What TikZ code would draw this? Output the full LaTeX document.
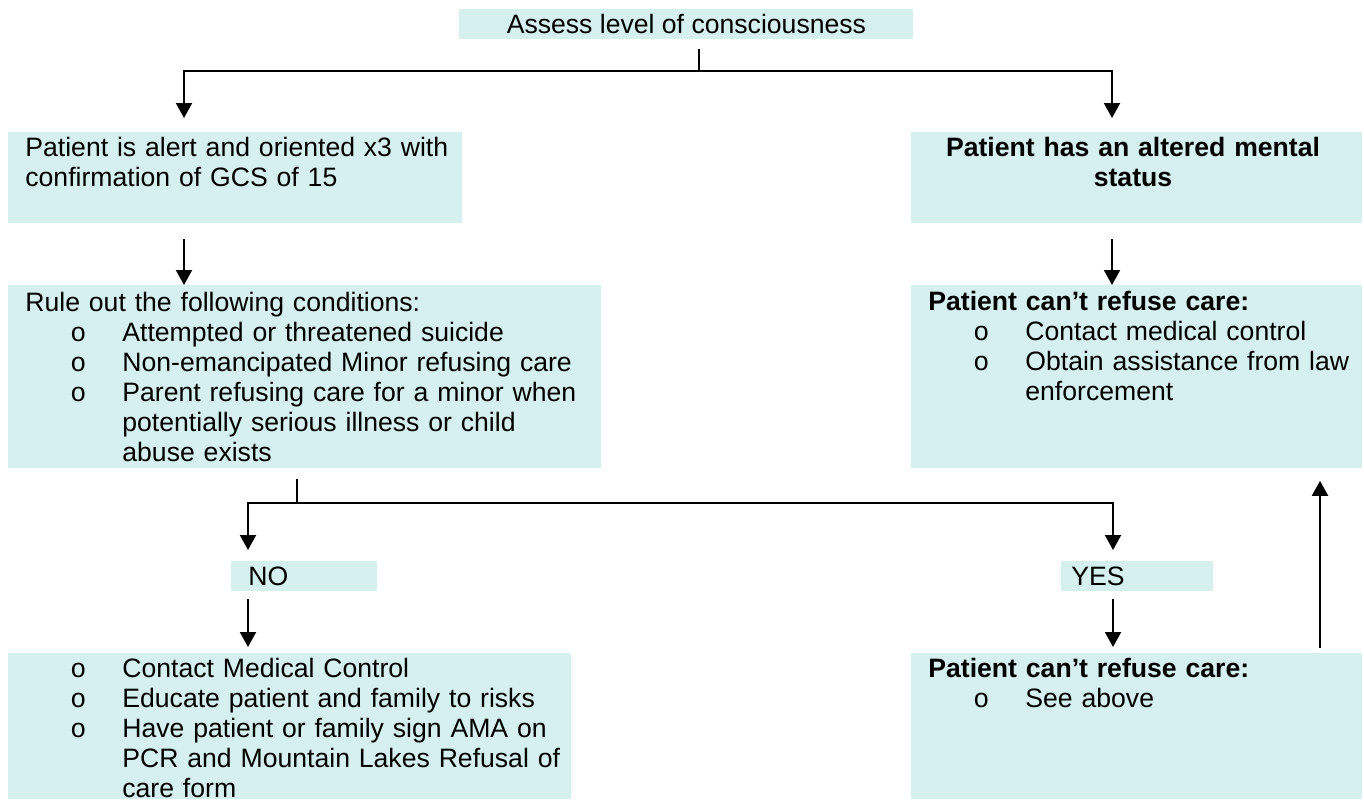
\documentclass[tikz,border=0pt]{standalone}
\usepackage{fontspec}
\setmainfont{Liberation Sans}
\newfontfamily\bulfont{Liberation Mono}
\usepackage{tikz}
\usepackage{xcolor}
\usetikzlibrary{calc,arrows.meta}
\definecolor{boxfill}{RGB}{214,239,239}
\newcommand{\bulbody}[1]{\hangindent=48.5pt\hangafter=1\noindent\hspace*{22.5pt}\makebox[26pt][l]{\bulfont o}#1\par}
\newcommand{\bulitem}[1]{\par\bulbody{#1}}

\begin{document}
\begin{tikzpicture}[x=0.5pt,y=-0.5pt]
    \tikzstyle{every node}=[inner sep=0pt, font=\fontsize{13.3pt}{15pt}\selectfont]
    \tikzstyle{box}=[fill=boxfill, anchor=north west]
    \tikzstyle{txt}=[anchor=base west, text width=330pt, align=left]
    \tikzstyle{conn}=[line width=1pt]
    \tikzstyle{arr}=[line width=1pt, -{Triangle[width=8pt,length=7.5pt]}]
    \useasboundingbox (0,0) rectangle (1364,799);
    \clip (0,0) rectangle (1364,799);

    \node[box, minimum width=227pt, minimum height=15pt] (1) at (459,9) {Assess level of consciousness};
    \node[box, minimum width=227pt, minimum height=45.5pt] (2) at (8,132) {};
    \node[box, minimum width=225.5pt, minimum height=45.5pt] (3) at (911,132) {};
    \node[box, minimum width=296.5pt, minimum height=91.5pt] (4) at (8,285) {};
    \node[box, minimum width=225.5pt, minimum height=91.5pt] (5) at (911,285) {};
    \node[box, minimum width=73pt, minimum height=15pt] (6) at (231,561) {};
    \node[box, minimum width=76pt, minimum height=15pt] (7) at (1061,561) {};
    \node[box, minimum width=281.5pt, minimum height=73pt] (8) at (8,653) {};
    \node[box, minimum width=225.5pt, minimum height=73pt] (9) at (911,653) {};

    \node[txt] (2t) at (25,156) {Patient is alert and oriented x3 with\\confirmation of GCS of 15};
    \node[anchor=base, text width=225pt, align=center] (3t) at (1133,156) {\textbf{Patient has an altered mental}\\\textbf{status}};
    \node[txt] (4t) at (25,311) {Rule out the following conditions:
        \bulitem{Attempted or threatened suicide}
        \bulitem{Non-emancipated Minor refusing care}
        \bulitem{Parent refusing care for a minor when\newline potentially serious illness or child\newline abuse exists}};
    \node[txt] (5t) at (928,310) {\textbf{Patient can’t refuse care:}
        \bulitem{Contact medical control}
        \bulitem{Obtain assistance from law\newline enforcement}};
    \node[anchor=base west] (6t) at (248,585) {NO};
    \node[anchor=base west] (7t) at (1071,585) {YES};
    \node[txt] (8t) at (25,677) {\bulbody{Contact Medical Control}
        \bulitem{Educate patient and family to risks}
        \bulitem{Have patient or family sign AMA on\newline PCR and Mountain Lakes Refusal of\newline care form}};
    \node[txt] (9t) at (928,677) {\textbf{Patient can’t refuse care:}
        \bulitem{See above}};

    \coordinate (j1) at (699,71);
    \coordinate (a1) at (184,71);
    \coordinate (a2) at (1112,71);
    \draw[conn, shorten <=4.5pt] (1.south -| j1) -- (j1);
    \draw[arr, shorten >=7pt] (j1) -- (a1) -- (a1 |- 2.north);
    \draw[arr, shorten >=7pt] (j1) -- (a2) -- (a2 |- 3.north);
    \draw[arr, shorten <=7.5pt] (2.south -| a1) -- (4.north -| a1);
    \draw[arr, shorten <=7.5pt] (3.south -| a2) -- (5.north -| a2);

    \coordinate (j2) at (297,503);
    \coordinate (b1) at (248,503);
    \coordinate (b2) at (1113,503);
    \draw[conn, shorten <=5pt] (4.south -| j2) -- (j2);
    \draw[arr, shorten >=5.5pt] (j2) -- (b1) -- (b1 |- 6.north);
    \draw[arr, shorten >=5.5pt] (j2) -- (b2) -- (b2 |- 7.north);
    \draw[arr, shorten <=3.5pt, shorten >=3pt] (6.south -| b1) -- (8.north -| b1);
    \draw[arr, shorten <=3.5pt, shorten >=3pt] (7.south -| b2) -- (9.north -| b2);

    \coordinate (c1) at (1320,600);
    \draw[arr, shorten <=2.5pt, shorten >=6pt] (9.north -| c1) -- (5.south -| c1);
\end{tikzpicture}
\end{document}
